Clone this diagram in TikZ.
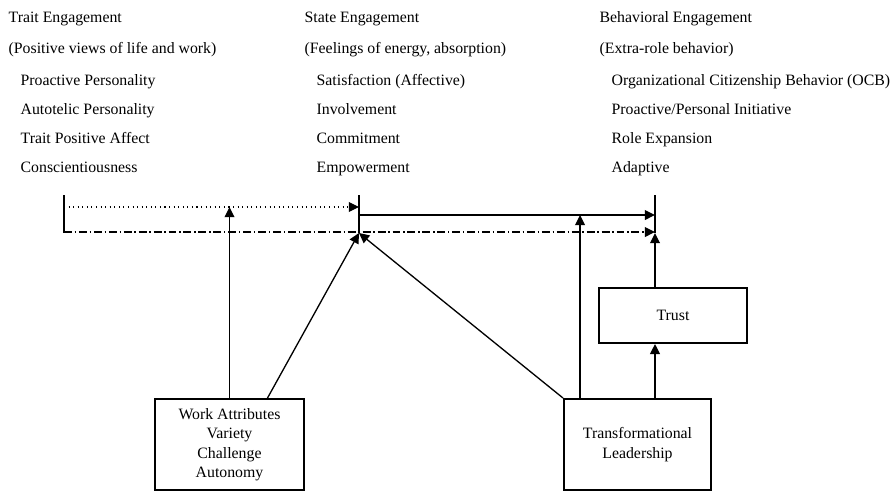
\documentclass[tikz,border=0pt]{standalone}
\usepackage{fontspec}
\setmainfont{Liberation Serif}
\usetikzlibrary{arrows.meta,positioning}

\begin{document}
\begin{tikzpicture}[->,>={Triangle[length=5.8pt,width=5.6pt]}, x=0.02cm, y=-0.02cm,
  font=\fontsize{9}{11.1}\selectfont, line width=0.75pt,
  lbl/.style={anchor=base west, inner sep=0pt},
  box/.style={draw, line width=1.1pt, align=center, inner sep=0pt},
  bar/.style={-, line width=1.1pt},
  dashdot/.style={dash pattern=on 4.5pt off 1.6pt on 0.8pt off 1.6pt}]
  \useasboundingbox (0,0) rectangle (894,491);
  % trait column
  \node[lbl] (trait)  at (8,22)  {Trait Engagement};
  \node[lbl] (traitd) at (8,53)  {(Positive views of life and work)};
  \node[lbl] (pro)    at (20,85) {Proactive Personality};
  \node[lbl] (auto)   at (20,114) {Autotelic Personality};
  \node[lbl] (tpa)    at (20,143) {Trait Positive Affect};
  \node[lbl] (consc)  at (20,172) {Conscientiousness};
  % state column
  \node[lbl] (state)  at (304,22)  {State Engagement};
  \node[lbl] (stated) at (304,53)  {(Feelings of energy, absorption)};
  \node[lbl] (sat)    at (316,85)  {Satisfaction (Affective)};
  \node[lbl] (inv)    at (316,114) {Involvement};
  \node[lbl] (comm)   at (316,143) {Commitment};
  \node[lbl] (emp)    at (316,172) {Empowerment};
  % behavioral column
  \node[lbl] (behav)  at (599,22)  {Behavioral Engagement};
  \node[lbl] (behavd) at (599,53)  {(Extra-role behavior)};
  \node[lbl] (ocb)    at (611,85)  {Organizational Citizenship Behavior (OCB)};
  \node[lbl] (pers)   at (611,114) {Proactive/Personal Initiative};
  \node[lbl] (role)   at (611,143) {Role Expansion};
  \node[lbl] (adapt)  at (611,172) {Adaptive};

  % bars
  \coordinate (t1) at (64,195);  \coordinate (t2) at (64,233);
  \coordinate (s1) at (359,195); \coordinate (s2) at (359,233);
  \coordinate (b1) at (655,195); \coordinate (b2) at (655,233);
  \draw[bar] (t1) -- (t2);
  \draw[bar] (s1) -- (s2);
  \draw[bar] (b1) -- (b2);

  \coordinate (dA) at (64,207);  \coordinate (dB) at (359,207);
  \coordinate (sA) at (359,215); \coordinate (sB) at (655,215);
  \coordinate (cA) at (64,232);  \coordinate (cB) at (655,232);
  \draw[dotted, line width=0.6pt] (dA) -- (dB);
  \draw (sA) -- (sB);
  \draw[dashdot] (cA) -- (cB);

  % boxes
  \node[box, minimum width=2.98cm, minimum height=1.82cm] (work) at (229.5,444.5)
    {Work Attributes\\Variety\\Challenge\\Autonomy};
  \node[box, minimum width=2.94cm, minimum height=1.82cm] (lead) at (637.5,444.5)
    {Transformational\\Leadership};
  \node[box, minimum width=2.96cm, minimum height=1.1cm] (trust) at (673,315.5) {Trust};

  \coordinate (wd) at ([xshift=0.76cm]work.north);
  \coordinate (lv) at ([xshift=0.34cm]lead.north west);
  \draw (work.north) -- (work.north |- dA);
  \draw (wd) -- (s2);
  \draw (lead.north west) -- (s2);
  \draw (lv) -- (lv |- sA);
  \draw (b2 |- lead.north) -- (b2 |- trust.south);
  \draw (b2 |- trust.north) -- (b2);
\end{tikzpicture}
\end{document}
